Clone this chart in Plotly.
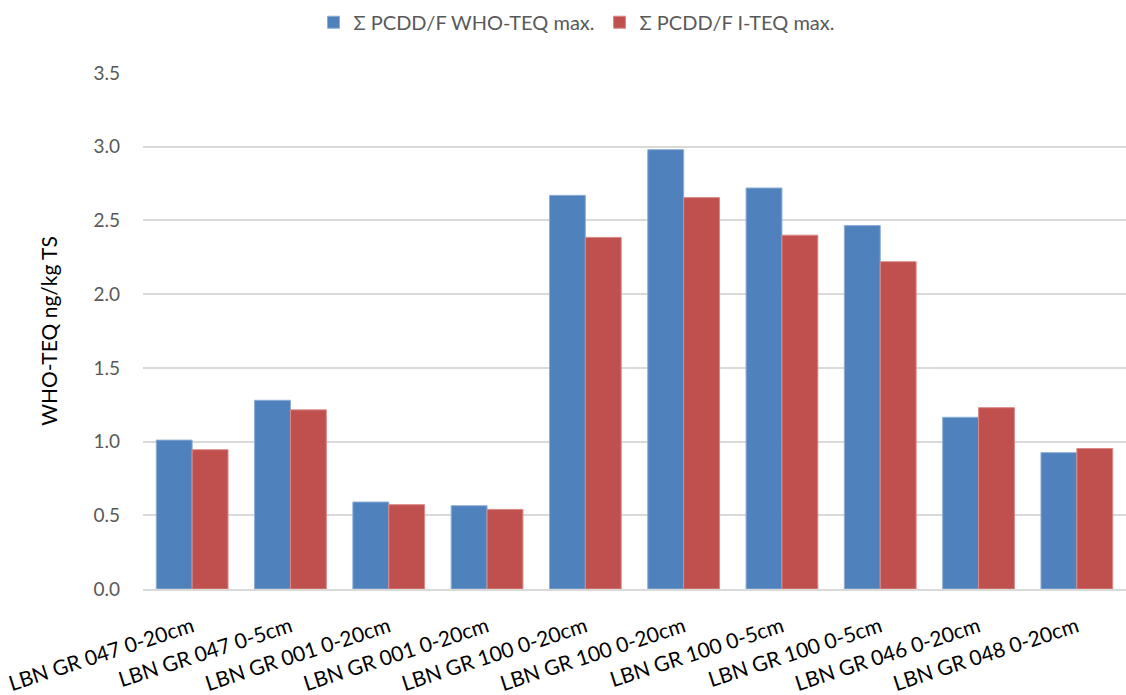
import plotly.graph_objects as go

categories = ["LBN GR 047 0-20cm", "LBN GR 047 0-5cm", "LBN GR 001 0-20cm", "LBN GR 001 0-20cm",
              "LBN GR 100 0-20cm", "LBN GR 100 0-20cm", "LBN GR 100 0-5cm", "LBN GR 100 0-5cm",
              "LBN GR 046 0-20cm", "LBN GR 048 0-20cm"]
who_teq = [1.01, 1.28, 0.59, 0.565, 2.67, 2.98, 2.72, 2.465, 1.165, 0.925]
i_teq = [0.945, 1.215, 0.572, 0.54, 2.385, 2.655, 2.40, 2.22, 1.23, 0.953]
series_names = ["Σ PCDD/F WHO-TEQ max.", "Σ PCDD/F I-TEQ max."]
y_ticks = [0.0, 0.5, 1.0, 1.5, 2.0, 2.5, 3.0, 3.5]

FONT = "Lato"
x = list(range(len(categories)))

fig = go.Figure()
fig.add_trace(go.Bar(x=x, y=who_teq, name=series_names[0],
                     marker=dict(color="#4F81BD", line=dict(color="#8EADD6", width=1))))
fig.add_trace(go.Bar(x=x, y=i_teq, name=series_names[1],
                     marker=dict(color="#C0504D", line=dict(color="#D98A88", width=1))))

fig.update_layout(
    width=1126, height=695,
    margin=dict(l=143, r=0, t=73, b=106),
    paper_bgcolor="white", plot_bgcolor="white",
    barmode="group", bargap=0.27, bargroupgap=0,
    font=dict(family=FONT, size=19, color="#595959"),
    legend=dict(orientation="h", xref="container", yref="container",
                x=0.512, xanchor="center", y=0.968, yanchor="middle",
                font=dict(family=FONT, size=20, color="#595959"),
                itemwidth=30, traceorder="normal"),
    xaxis=dict(tickmode="array", tickvals=x, ticktext=categories, tickangle=-18,
               range=[-0.5, len(categories) - 0.5],
               tickfont=dict(family=FONT, size=21, color="#000000"),
               ticklabelstandoff=16,
               showgrid=False, showline=True, linecolor="#D9D9D9", linewidth=1.5,
               ticks=""),
    yaxis=dict(range=[0, 3.5], tickmode="array", tickvals=y_ticks,
               ticktext=[f"{v:.1f}" for v in y_ticks],
               showgrid=True, gridcolor="#D9D9D9", gridwidth=1.5,
               zeroline=False, showline=False, ticks="",
               ticklabelstandoff=22,
               tickfont=dict(family=FONT, size=19, color="#595959"),
               title=dict(text="WHO-TEQ ng/kg TS", font=dict(family=FONT, size=21, color="#000000"),
                          standoff=30)),
)

fig.write_html("out.html")
